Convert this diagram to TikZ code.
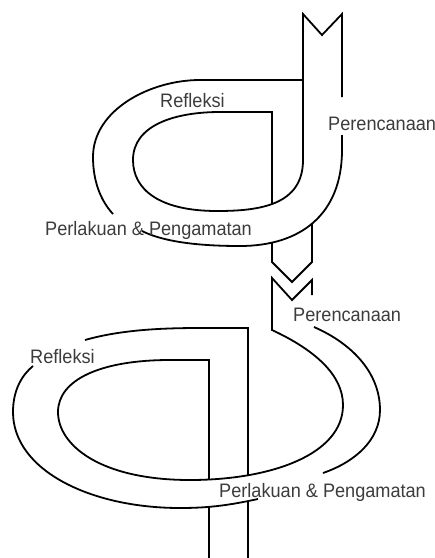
\documentclass[tikz,border=0pt]{standalone}
\usepackage{fontspec}
\usepackage{tikz}
\usepackage{xcolor}
\usetikzlibrary{intersections}
\newfontfamily\lblfont{Liberation Sans}[FakeStretch=0.93]
\definecolor{cLabel}{RGB}{60,60,60}
\tikzset{
	band/.style ={draw=black, line width=1.8pt, line join=miter},
	cut/.style  ={name path=#1},
	lbl/.style  ={anchor=base west, inner sep=0pt, text=cLabel, font=\lblfont\fontsize{19.5}{20}\selectfont},
}
\begin{document}
\begin{tikzpicture}[x=1pt, y=-1pt]
	\useasboundingbox (0,0) rectangle (435,558);
	% upper cycle
	\path[cut=inA] (303,160) .. controls (303,205) and (260,211) .. (217,211);
	\path[cut=outA] (342,150) .. controls (342,215) and (300,246) .. (240,246);
	\path[cut=dropL] (272,112) -- (272,300);
	\path[cut=dropR] (312,150) -- (312,300);
	\path[name intersections={of=inA and dropL, by=iAL}];
	\path[name intersections={of=outA and dropL, by=oAL}];
	\path[name intersections={of=outA and dropR, by=oAR}];
	\draw[band] (342,97) -- (342,14) -- (322,35) -- (303,14) -- (303,160) .. controls (303,205) and (260,211) .. (217,211)
		.. controls (160,211) and (133,190) .. (133,160) .. controls (133,125) and (175,112) .. (220,112) -- (272,112) -- (iAL);
	\draw[band] (342,135) -- (342,150) .. controls (342,215) and (300,246) .. (240,246) .. controls (190,246) and (160,240) .. (142,231);
	\draw[band] (113,214) .. controls (100,200) and (93,180) .. (93,157) .. controls (93,110) and (150,80) .. (200,80) -- (303,80);
	\draw[band] (oAL) -- (272,262) -- (292,282) -- (312,262) -- (oAR);
	\node[lbl] (planA) at (328,130) {Perencanaan};
	\node[lbl] (reflA) at (160,107) {Refleksi};
	\node[lbl] (actA) at (45,235) {Perlakuan \& Pengamatan};
	% lower cycle
	\path[cut=inB] (343,405) .. controls (343,455) and (270,480) .. (190,480);
	\path[cut=outB] (258,499) .. controls (230,505) and (210,508) .. (180,508);
	\path[cut=stemL] (209,340) -- (209,558);
	\path[cut=stemR] (248,320) -- (248,558);
	\path[name intersections={of=inB and stemL, by=iBL}];
	\path[name intersections={of=inB and stemR, by=iBR}];
	\path[name intersections={of=outB and stemL, by=oBL}];
	\path[name intersections={of=outB and stemR, by=oBR}];
	\draw[band] (312,295) -- (312,280) -- (292,300) -- (272,278) -- (272,330) .. controls (315,350) and (343,375) .. (343,405)
		.. controls (343,455) and (270,480) .. (190,480) .. controls (100,480) and (58,445) .. (58,412)
		.. controls (58,380) and (100,360) .. (170,360) -- (209,360) -- (iBL);
	\draw[band] (314,327) .. controls (355,345) and (380,375) .. (380,410) .. controls (380,440) and (355,462) .. (323,473);
	\draw[band] (33,366) .. controls (22,375) and (13,390) .. (13,412) .. controls (13,470) and (90,508) .. (180,508)
		.. controls (210,508) and (230,505) .. (258,499);
	\draw[band] (85,340) .. controls (120,330) and (160,328) .. (200,328) -- (248,328) -- (iBR);
	\draw[band] (oBL) -- (209,558);
	\draw[band] (oBR) -- (248,558);
	\node[lbl] (planB) at (293,321) {Perencanaan};
	\node[lbl] (reflB) at (30,363) {Refleksi};
	\node[lbl] (actB) at (219,497) {Perlakuan \& Pengamatan};
\end{tikzpicture}
\end{document}
